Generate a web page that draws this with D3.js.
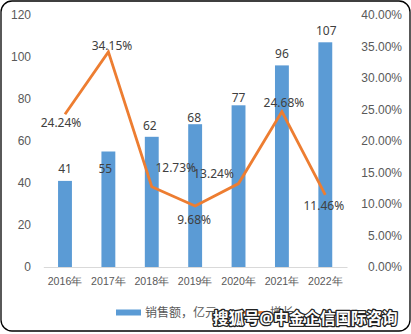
<!DOCTYPE html>
<html>
<head>
<meta charset="utf-8">
<script src="https://cdn.jsdelivr.net/npm/d3@7/dist/d3.min.js"></script>
<style>
  html, body { margin: 0; padding: 0; background: #fff; }
  svg { display: block; font-family: "Noto Sans", "Noto Sans CJK SC", sans-serif; }
</style>
</head>
<body>
<svg id="chart" width="411" height="334"></svg>
<script>
// Sales (亿元) and year-on-year growth, 2016–2022
const years = ["2016年", "2017年", "2018年", "2019年", "2020年", "2021年", "2022年"];
const sales = [41, 55, 62, 68, 77, 96, 107];
const growth = [0.2424, 0.3415, 0.1273, 0.0968, 0.1324, 0.2468, 0.1146];
const leftTicks = [0, 20, 40, 60, 80, 100, 120];
const rightTicks = [0, 0.05, 0.10, 0.15, 0.20, 0.25, 0.30, 0.35, 0.40];
const seriesNames = ["销售额，亿元", "增长"];
const watermark = "搜狐号@中金企信国际咨询";

// Hand-placed label nudges [dx, dy] relative to each mark
const barLabelNudge = [[0, -12], [-3, 16.5], [-2, -11], [-1, -6.5], [0, -7.6], [0, -12.4], [1, -11.6]];
const lineLabelNudge = [[-4, 8.7], [3.6, -6], [24, -19], [-1, 13], [-25, -9.6], [2, -9], [-1.5, 11]];

const BLUE = "#5B9BD5", ORANGE = "#ED7D31", AXIS_TEXT = "#595959", LABEL_TEXT = "#404040";

const svg = d3.select("#chart");

// Chart frame with rounded corners
svg.append("rect")
  .attr("x", 1).attr("y", 1).attr("width", 409).attr("height", 330)
  .attr("rx", 11).attr("ry", 11)
  .attr("fill", "#fff").attr("stroke", "#000").attr("stroke-width", 1.3);

const x = d3.scaleBand().domain(years).range([43.3, 347]).paddingInner(0.68).paddingOuter(0.34);
const yL = d3.scaleLinear().domain([0, 120]).range([267, 15]);
const yR = d3.scaleLinear().domain([0, 0.4]).range([267, 15]);

// Left axis (values)
const leftAxis = svg.append("g").attr("transform", "translate(31,0)")
  .call(d3.axisLeft(yL).tickValues(leftTicks).tickSize(0).tickPadding(0));
leftAxis.select(".domain").remove();
leftAxis.selectAll("text").attr("fill", AXIS_TEXT).style("font-size", "12px");

// Right axis (growth %)
const rightAxis = svg.append("g").attr("transform", "translate(402,0)")
  .call(d3.axisLeft(yR).tickValues(rightTicks).tickFormat(d3.format(".2%")).tickSize(0).tickPadding(0));
rightAxis.select(".domain").remove();
rightAxis.selectAll("text").attr("fill", AXIS_TEXT).style("font-size", "12px");

// Category axis
const bottomAxis = svg.append("g").attr("transform", "translate(0,267)")
  .call(d3.axisBottom(x).tickSize(0).tickPadding(10));
bottomAxis.select(".domain").attr("stroke", "#d9d9d9").attr("stroke-width", 1);
bottomAxis.selectAll("text").attr("fill", AXIS_TEXT).style("font-size", "10.6px");

// Bars
svg.append("g").selectAll("rect").data(sales).join("rect")
  .attr("x", (d, i) => x(years[i]))
  .attr("y", d => yL(d))
  .attr("width", x.bandwidth())
  .attr("height", d => yL(0) - yL(d))
  .attr("fill", BLUE);

// Growth line
const lineGen = d3.line()
  .x((d, i) => x(years[i]) + x.bandwidth() / 2)
  .y(d => yR(d));
svg.append("path").datum(growth)
  .attr("d", lineGen)
  .attr("fill", "none").attr("stroke", ORANGE).attr("stroke-width", 2.8)
  .attr("stroke-linejoin", "miter");

// Bar value labels
svg.append("g").selectAll("text").data(sales).join("text")
  .attr("x", (d, i) => x(years[i]) + x.bandwidth() / 2 + barLabelNudge[i][0])
  .attr("y", (d, i) => yL(d) + barLabelNudge[i][1])
  .attr("text-anchor", "middle").attr("dominant-baseline", "central")
  .attr("fill", LABEL_TEXT).style("font-size", "12px")
  .text(d => d);

// Growth labels
svg.append("g").selectAll("text").data(growth).join("text")
  .attr("x", (d, i) => x(years[i]) + x.bandwidth() / 2 + lineLabelNudge[i][0])
  .attr("y", (d, i) => yR(d) + lineLabelNudge[i][1])
  .attr("text-anchor", "middle").attr("dominant-baseline", "central")
  .attr("fill", LABEL_TEXT).style("font-size", "12px")
  .text(d => d3.format(".2%")(d));

// Legend
const legend = svg.append("g");
legend.append("rect").attr("x", 116).attr("y", 309.5).attr("width", 25).attr("height", 6).attr("fill", BLUE);
legend.append("text").attr("x", 145).attr("y", 312.5).attr("dominant-baseline", "central")
  .attr("fill", AXIS_TEXT).style("font-size", "12px").text(seriesNames[0]);
legend.append("line").attr("x1", 241).attr("x2", 266).attr("y1", 312.5).attr("y2", 312.5)
  .attr("stroke", ORANGE).attr("stroke-width", 2.8);
legend.append("text").attr("x", 270).attr("y", 312.5).attr("dominant-baseline", "central")
  .attr("fill", AXIS_TEXT).style("font-size", "12px").text(seriesNames[1]);

// Publisher mark
svg.append("text").attr("x", 213).attr("y", 318).attr("dominant-baseline", "central")
  .style("font-size", "15.5px").style("font-weight", "bold")
  .attr("fill", "#fff").attr("stroke", "#222").attr("stroke-width", 2.6)
  .attr("paint-order", "stroke").attr("stroke-linejoin", "round")
  .text(watermark);
</script>
</body>
</html>
